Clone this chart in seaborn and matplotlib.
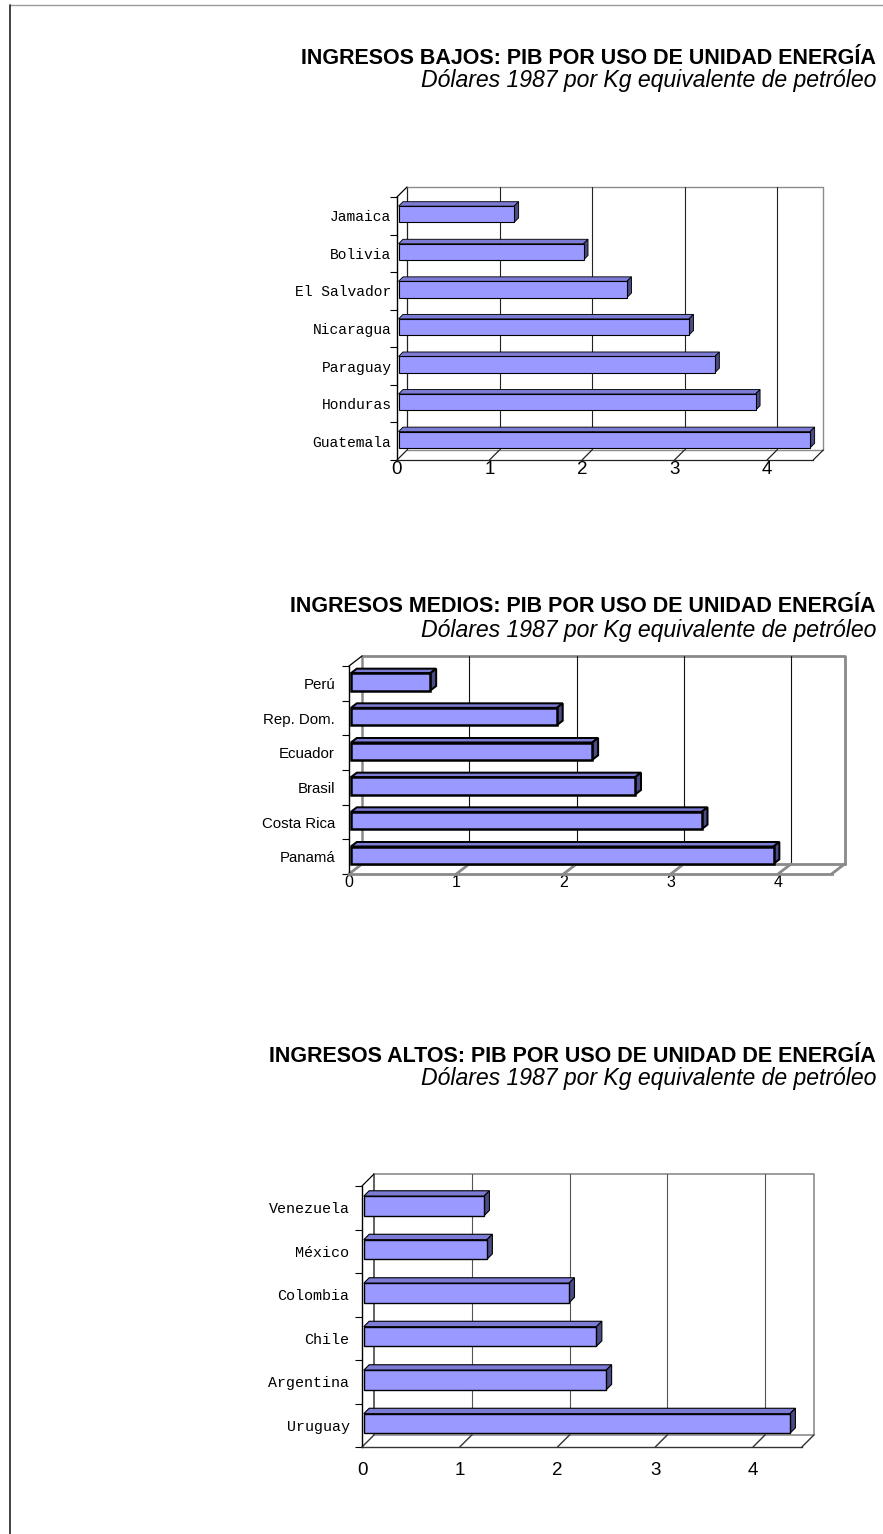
import numpy as np
import pandas as pd
import matplotlib
matplotlib.use("Agg")
import matplotlib.pyplot as plt
import seaborn as sns
from matplotlib.patches import Polygon
from matplotlib.lines import Line2D

sns.set_theme(style="white")
plt.rcParams["font.family"] = ["Liberation Sans", "DejaVu Sans"]

# ---------------- data ----------------
bajos_paises = ["Jamaica", "Bolivia", "El Salvador", "Nicaragua", "Paraguay", "Honduras", "Guatemala"]
bajos_valores = [1.25, 2.00, 2.47, 3.14, 3.42, 3.86, 4.45]

medios_paises = ["Perú", "Rep. Dom.", "Ecuador", "Brasil", "Costa Rica", "Panamá"]
medios_valores = [0.74, 1.92, 2.25, 2.65, 3.27, 3.94]

altos_paises = ["Venezuela", "México", "Colombia", "Chile", "Argentina", "Uruguay"]
altos_valores = [1.23, 1.26, 2.10, 2.38, 2.48, 4.36]

x_ticks = [0, 1, 2, 3, 4]
x_max = 4.5

titulos = ["INGRESOS BAJOS: PIB POR USO DE UNIDAD ENERGÍA",
           "INGRESOS MEDIOS: PIB POR USO DE UNIDAD ENERGÍA",
           "INGRESOS ALTOS: PIB POR USO DE UNIDAD DE ENERGÍA"]
subtitulo = "Dólares 1987 por Kg equivalente de petróleo"

# ---------------- style ----------------
W, H = 883, 1534
FRONT = "#9999FF"
TOP = "#7C7CD6"
SIDE = "#4B4B85"

fig = plt.figure(figsize=(W / 100, H / 100), dpi=100)
fig.patch.set_facecolor("white")

# page frame (top and left)
fig.add_artist(Line2D([10 / W, 1], [1 - 5 / H, 1 - 5 / H], color="#9a9a9a", lw=1.0))
fig.add_artist(Line2D([10 / W, 10 / W], [0, 1 - 5 / H], color="#222222", lw=1.2))

panels = [
    dict(cats=bajos_paises, vals=bajos_valores, title=titulos[0], ty=58, sy=80,
         x0=397, xunit=92.5, ytop=197, ybot=460, dx=10, dy=10, bw=0.43, lw=0.8,
         yfont=["Liberation Mono"], yfs=10.5, ypad=4, xfs=13.5, xpad=1,
         wall="#8c8c8c", wall_lw=1.0, grid="#222222", floor="#222222", floor_lw=0.9),
    dict(cats=medios_paises, vals=medios_valores, title=titulos[1], ty=607, sy=630,
         x0=349, xunit=107.25, ytop=666, ybot=874, dx=13, dy=10, bw=0.5, lw=1.8,
         yfont=["Liberation Sans"], yfs=10.8, ypad=10, xfs=11.5, xpad=1,
         wall="#8a8a8a", wall_lw=2.0, grid="#111111", floor="#8a8a8a", floor_lw=2.0),
    dict(cats=altos_paises, vals=altos_valores, title=titulos[2], ty=1056, sy=1079,
         x0=362, xunit=97.75, ytop=1186, ybot=1447, dx=12, dy=12, bw=0.45, lw=1.0,
         yfont=["Liberation Mono"], yfs=10.8, ypad=9, xfs=13.5, xpad=11,
         wall="#8c8c8c", wall_lw=1.2, grid="#555555", floor="#333333", floor_lw=1.0),
]


def draw_panel(g):
    cats, vals = g["cats"], g["vals"]
    n = len(cats)
    left = g["x0"] / W
    width = g["xunit"] * x_max / W
    bottom = 1 - g["ybot"] / H
    height = (g["ybot"] - g["ytop"]) / H
    ax = fig.add_axes([left, bottom, width, height])
    ax.patch.set_alpha(0)

    df = pd.DataFrame({"pais": cats, "valor": vals})
    sns.barplot(data=df, x="valor", y="pais", orient="h", color=FRONT, saturation=1,
                width=g["bw"], edgecolor="black", linewidth=g["lw"], ax=ax, zorder=3)
    ax.set_xlim(0, x_max)
    ax.set_ylim(n - 0.5, -0.5)
    ax.set_xlabel("")
    ax.set_ylabel("")

    ypx = g["ybot"] - g["ytop"]
    ox = g["dx"] / g["xunit"]
    oy = -g["dy"] * n / ypx
    yb, yt = n - 0.5, -0.5

    line_kw = dict(clip_on=False)
    # back wall edges
    ax.plot([ox, ox], [yb + oy, yt + oy], color=g["floor"], lw=g["wall_lw"] * 0.9, zorder=1, **line_kw)
    ax.plot([ox, x_max + ox, x_max + ox], [yt + oy, yt + oy, yb + oy], color=g["wall"],
            lw=g["wall_lw"], zorder=1, **line_kw)
    # back gridlines
    for t in x_ticks[1:]:
        ax.plot([t + ox, t + ox], [yb + oy, yt + oy], color=g["grid"], lw=0.8, zorder=1, **line_kw)
    # floor
    ax.plot([ox, x_max + ox], [yb + oy, yb + oy], color=g["wall"], lw=g["wall_lw"], zorder=1, **line_kw)
    for t in x_ticks + [x_max]:
        ax.plot([t, t + ox], [yb, yb + oy], color=g["floor"], lw=g["floor_lw"], zorder=1, **line_kw)
    # top-left diagonal
    ax.plot([0, ox], [yt, yt + oy], color="black", lw=0.9, zorder=1, **line_kw)

    # 3D bars: shift front face slightly back, add top and side faces
    f, b = 0.15, 0.45
    bars = list(ax.patches)
    for p in bars:
        x, y, w, h = p.get_x(), p.get_y(), p.get_width(), p.get_height()
        x0, y0 = x + f * ox, y + f * oy
        p.set_xy((x0, y0))
        x1 = x0 + w
        top = Polygon([(x0, y0), (x1, y0), (x1 + b * ox, y0 + b * oy), (x0 + b * ox, y0 + b * oy)],
                      closed=True, facecolor=TOP, edgecolor="black", lw=g["lw"] * 0.8, zorder=2.9,
                      clip_on=False)
        side = Polygon([(x1, y0), (x1, y0 + h), (x1 + b * ox, y0 + h + b * oy), (x1 + b * ox, y0 + b * oy)],
                       closed=True, facecolor=SIDE, edgecolor="black", lw=g["lw"] * 0.8, zorder=2.9,
                       clip_on=False)
        ax.add_patch(top)
        ax.add_patch(side)

    # spines
    for s in ["top", "right"]:
        ax.spines[s].set_visible(False)
    ax.spines["left"].set_color("black")
    ax.spines["left"].set_linewidth(1.0)
    ax.spines["bottom"].set_color(g["floor"])
    ax.spines["bottom"].set_linewidth(g["floor_lw"])

    # ticks
    ax.set_xticks(x_ticks)
    ax.set_xticklabels([str(t) for t in x_ticks], fontsize=g["xfs"], color="black")
    ax.tick_params(axis="x", length=0, pad=g["xpad"])
    ax.set_yticks(range(n))
    ax.set_yticklabels(cats, fontsize=g["yfs"], family=g["yfont"] + ["DejaVu Sans"], color="black")
    ax.set_yticks(np.arange(-0.5, n, 1.0), minor=True)
    ax.tick_params(axis="y", which="major", length=0, pad=g["ypad"])
    ax.tick_params(axis="y", which="minor", length=5, width=0.8, direction="out",
                   left=True, color="black")

    # titles
    fig.text(876 / W, 1 - g["ty"] / H, g["title"], ha="right", va="center",
             fontsize=15.5, fontweight="bold", color="black")
    fig.text(876 / W, 1 - g["sy"] / H, subtitulo, ha="right", va="center",
             fontsize=16.6, style="italic", color="black")


for g in panels:
    draw_panel(g)

fig.savefig("out.png", dpi=100, facecolor="white")
